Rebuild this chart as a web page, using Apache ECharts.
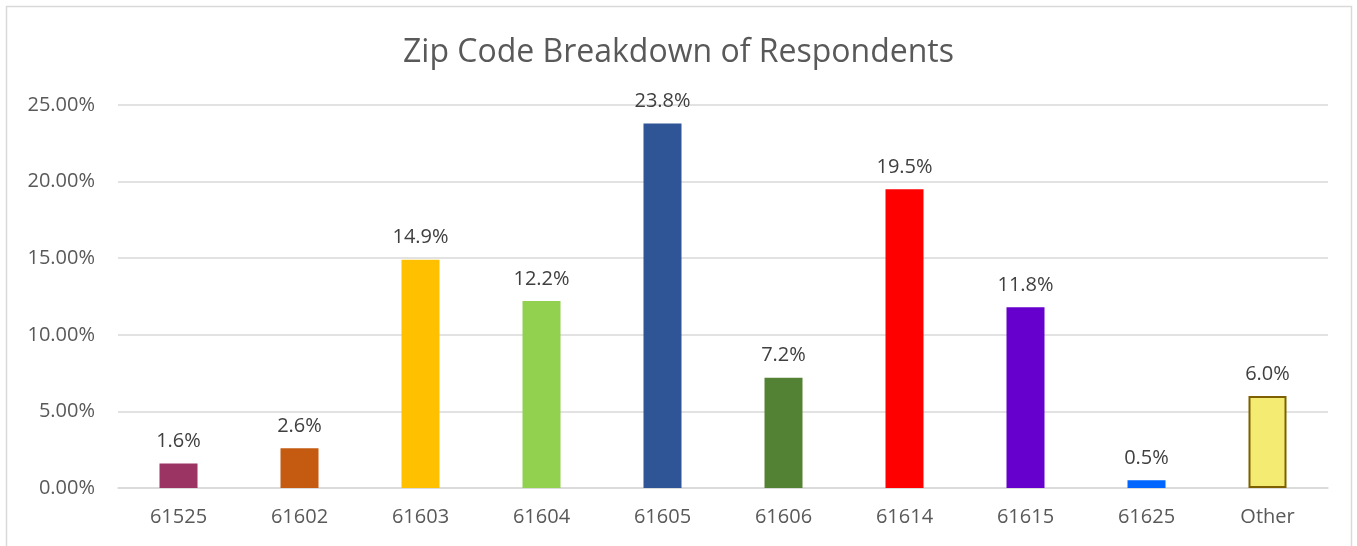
<!DOCTYPE html>
<html><head><meta charset="utf-8">
<script src="https://cdn.jsdelivr.net/npm/echarts@6/dist/echarts.min.js"></script>
<style>html,body{margin:0;padding:0;background:#fff}#c{width:1357px;height:546px}</style>
</head><body><div id="c"></div>
<script>
const categories = ["61525","61602","61603","61604","61605","61606","61614","61615","61625","Other"];
const values = [1.6, 2.6, 14.9, 12.2, 23.8, 7.2, 19.5, 11.8, 0.5, 6.0];
const barColors = ["#9B3363","#C55A11","#FFC000","#92D050","#2F5597","#548235","#FF0000","#6600CC","#0066FF","#F4EC72"];
const barBorders = [null,null,null,null,null,null,null,null,null,"#7F6000"];
const yTicks = [0, 5, 10, 15, 20, 25];

const FONT = '"Open Sans", "Liberation Sans", sans-serif';
const chart = echarts.init(document.getElementById('c'), null, {renderer:'canvas'});
chart.setOption({
  animation:false,
  backgroundColor:'#fff',
  graphic:[{type:'rect', shape:{x:6.5,y:6.5,width:1345,height:600}, style:{fill:'none', stroke:'#d9d9d9', lineWidth:1.5}, silent:true}],
  title:{text:'Zip Code Breakdown of Respondents', left:'center', top:32,
    textStyle:{fontFamily:FONT, fontSize:32, fontWeight:'normal', color:'#595959'}},
  grid:{left:118, right:29, top:105, bottom:58, containLabel:false},
  xAxis:{type:'category', data:categories,
    axisLine:{show:true, lineStyle:{color:'#d9d9d9', width:1.5}},
    axisTick:{show:false},
    axisLabel:{fontFamily:FONT, fontSize:20, color:'#595959', margin:19}},
  yAxis:{type:'value', min:yTicks[0], max:yTicks[yTicks.length-1], interval:5,
    axisLine:{show:false}, axisTick:{show:false},
    splitLine:{lineStyle:{color:'#d9d9d9', width:1.5}},
    axisLabel:{fontFamily:FONT, fontSize:20, color:'#595959', margin:23,
      formatter:v=>v.toFixed(2)+'%'}},
  series:[{type:'bar', barWidth:38,
    data:values.map((v,i)=>({value:v, itemStyle:{color:barColors[i],
      borderColor:barBorders[i]||barColors[i], borderWidth:barBorders[i]?2:0}})),
    label:{show:true, position:'top', distance:12, fontFamily:FONT, fontSize:20, color:'#404040',
      formatter:p=>p.value.toFixed(1)+'%'}}]
});
</script></body></html>
